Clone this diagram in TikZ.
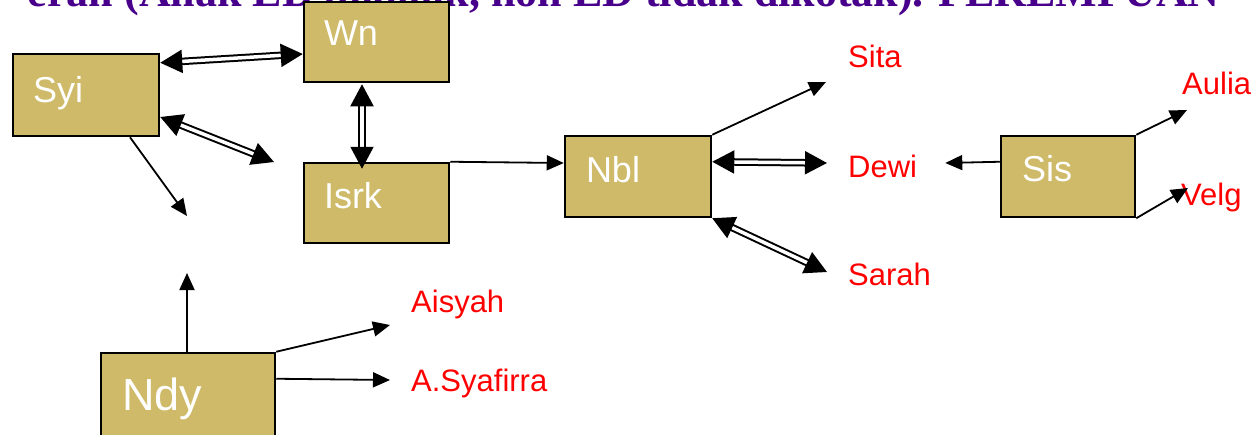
\documentclass[tikz,border=0pt]{standalone}
\usepackage{fontspec}
\setmainfont{Liberation Sans}
\newfontfamily\titlefont{Liberation Serif}
\usetikzlibrary{arrows.meta,calc}
\definecolor{boxfill}{RGB}{206,186,104}
\definecolor{titlecol}{RGB}{72,0,140}
\definecolor{lblred}{RGB}{255,0,0}
\begin{document}
\begin{tikzpicture}[x=1pt,y=-1pt,
  box/.style={draw=black, line width=2.5pt, fill=boxfill, inner sep=0pt,
    text=white, align=left, font=\fontsize{36}{40}\selectfont,
    text height=25pt, text depth=15pt},
  lbl/.style={text=lblred, font=\fontsize{31}{36}\selectfont, inner sep=0pt, anchor=base west},
  sgl/.style={draw=black, line width=1.8pt, -{Triangle[length=17pt,width=15pt]}},
  dbl/.style={draw=black, line width=2pt, double=white, double distance=3.5pt,
    {Triangle[length=22pt,width=23pt]}-{Triangle[length=22pt,width=23pt]}}
]
\useasboundingbox (0,0) rectangle (1256,434);
% title (cut off at the top)
\node[anchor=base east, inner sep=0pt, text=titlecol,
  font=\titlefont\bfseries\fontsize{44}{50}\selectfont] (title) at (1220,6)
  {erah (Anak ED dikotak, non ED tidak dikotak). PEREMPUAN};
% boxes
\node[box, minimum width=146pt, minimum height=82pt, text width=106pt,
  text height=27pt, text depth=13pt] (syi) at (86,95) {Syi};
\node[box, minimum width=145pt, minimum height=80pt, text width=105pt,
  text height=23pt, text depth=17pt] (wn) at (376.5,42) {Wn};
\node[box, minimum width=145pt, minimum height=80pt, text width=105pt] (isrk) at (376.5,203) {Isrk};
\node[box, minimum width=146pt, minimum height=81pt, text width=104pt,
  text height=25.5pt, text depth=14.5pt] (nbl) at (638,176.5) {Nbl};
\node[box, minimum width=134pt, minimum height=81pt, text width=92pt,
  text height=24.5pt, text depth=15.5pt] (sis) at (1068,176.5) {Sis};
\node[box, minimum width=174pt, minimum height=92pt, text width=132pt,
  font=\fontsize{45}{50}\selectfont, text height=36pt, text depth=14pt] (ndy) at (188,399) {Ndy};
% red labels
\node[lbl] (sita) at (848,67) {Sita};
\node[lbl] (dewi) at (848,177) {Dewi};
\node[lbl] (sarah) at (848,285) {Sarah};
\node[lbl] (aulia) at (1182,94) {Aulia};
\node[lbl] (velg) at (1181,205) {Velg};
\node[lbl] (aisyah) at (411,312) {Aisyah};
\node[lbl] (asy) at (411,391) {A.Syafirra};
% free ends
\coordinate (e1) at (274,162);
\coordinate (e2) at (187,216);
\coordinate (e3) at (187,273);
% connectors
\path[dbl] ($(syi.north east)+(0,10)$) -- ($(wn.west)+(0,12)$);
\path[dbl] ($(wn.south)+(-14.5,1)$) -- ($(isrk.north)+(-14.5,7)$);
\path[dbl] ($(syi.east)+(0,22)$) -- (e1);
\path[sgl] ($(syi.south)+(44,0)$) -- (e2);
\path[sgl] ($(ndy.north)+(-1,0)$) -- (e3);
\path[sgl] (ndy.north east) -- ($(aisyah.base west)+(-21,13)$);
\path[sgl] ($(ndy.north east)+(0,27)$) -- ($(asy.base west)+(-21,-11)$);
\path[sgl] (isrk.north east) -- ($(nbl.west)+(0,-13.5)$);
\path[sgl] (nbl.north east) -- ($(sita.base west)+(-22,15)$);
\path[dbl] ($(nbl.north east)+(0,27)$) -- ($(dewi.base west)+(-21,-14)$);
\path[dbl] (nbl.south east) -- ($(sarah.base west)+(-21,-13)$);
\path[sgl] ($(sis.north west)+(0,27)$) -- ($(dewi.base east)+(28,-14)$);
\path[sgl] (sis.north east) -- ($(aulia.base west)+(5,16)$);
\path[sgl] (sis.south east) -- ($(velg.base west)+(7,-17)$);
\end{tikzpicture}
\end{document}
